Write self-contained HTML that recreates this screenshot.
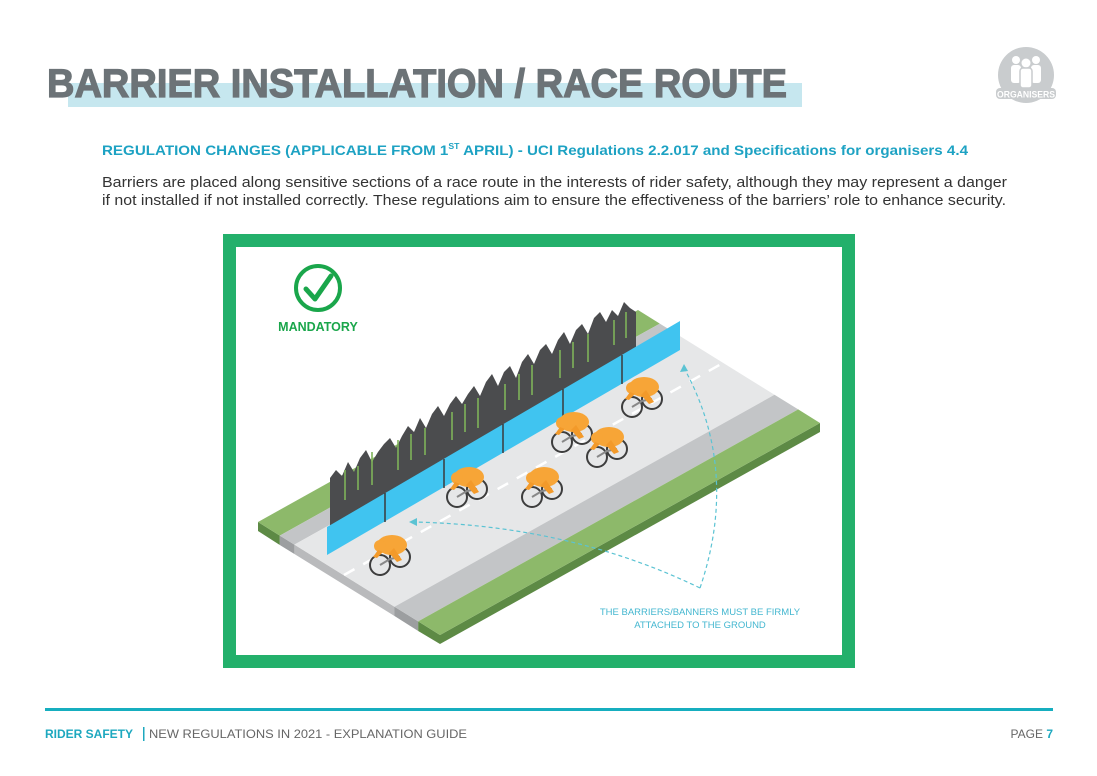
<!DOCTYPE html>
<html><head><meta charset="utf-8"><style>
html,body{margin:0;padding:0;background:#fff}
svg{display:block}
</style></head><body>
<svg width="1097" height="776" viewBox="0 0 1097 776" xmlns="http://www.w3.org/2000/svg" font-family="Liberation Sans, sans-serif">
<rect width="1097" height="776" fill="#fff"/>
<!-- title -->
<rect x="68" y="83" width="734" height="24" fill="#c6e7ef"/>
<text x="47" y="97" font-size="40" font-weight="bold" fill="#6c7377" stroke="#6c7377" stroke-width="1.2" textLength="740" lengthAdjust="spacingAndGlyphs">BARRIER INSTALLATION / RACE ROUTE</text>
<!-- organisers icon -->
<circle cx="1026" cy="75" r="28" fill="#c9ccce"/>
<g fill="#fff">
<circle cx="1016" cy="60" r="4"/><circle cx="1036" cy="60" r="4"/><circle cx="1026" cy="63" r="4.5"/>
<rect x="1011" y="65" width="10" height="18" rx="3"/><rect x="1031" y="65" width="10" height="18" rx="3"/>
<rect x="1020" y="68" width="12" height="20" rx="3" stroke="#c9ccce" stroke-width="1.5"/>
</g>
<rect x="996" y="88" width="60" height="11" rx="4" fill="#c9ccce"/>
<text x="1026" y="97.5" font-size="9" font-weight="bold" fill="#fff" text-anchor="middle" textLength="58" lengthAdjust="spacingAndGlyphs">ORGANISERS</text>
<!-- subtitle -->
<text x="102" y="155" font-size="14" font-weight="bold" fill="#1da2c3" textLength="866" lengthAdjust="spacingAndGlyphs">REGULATION CHANGES (APPLICABLE FROM 1<tspan font-size="8" dy="-6">ST</tspan><tspan dy="6"> APRIL) - UCI Regulations 2.2.017 and Specifications for organisers 4.4</tspan></text>
<text x="102" y="187" font-size="14.5" fill="#333" textLength="905" lengthAdjust="spacingAndGlyphs">Barriers are placed along sensitive sections of a race route in the interests of rider safety, although they may represent a danger</text>
<text x="102" y="205" font-size="14.5" fill="#333" textLength="904" lengthAdjust="spacingAndGlyphs">if not installed if not installed correctly. These regulations aim to ensure the effectiveness of the barriers’ role to enhance security.</text>
<!-- frame -->
<rect x="229.5" y="240.5" width="619" height="421" fill="#fff" stroke="#23b06b" stroke-width="13"/>
<!-- mandatory -->
<circle cx="318" cy="288" r="22" fill="none" stroke="#1aa64b" stroke-width="4"/>
<path d="M306,289 L315,299 L331,276" fill="none" stroke="#1aa64b" stroke-width="5" stroke-linecap="round" stroke-linejoin="round"/>
<text x="318" y="331" font-size="12.5" font-weight="bold" fill="#1aa64b" text-anchor="middle">MANDATORY</text>
<!-- slab faces -->
<polygon points="258,522 279.8,535.6 279.8,545 258,531" fill="#5d8a45"/>
<polygon points="279.8,535.6 294.4,544.6 294.4,554 279.8,545" fill="#9c9ea0"/>
<polygon points="294.4,544.6 394.5,606.8 394.5,616 294.4,554" fill="#b9babc"/>
<polygon points="394.5,606.8 418.2,621.4 418.2,631 394.5,616" fill="#9c9ea0"/>
<polygon points="418.2,621.4 440,635 440,644 418.2,631" fill="#5d8a45"/>
<polygon points="440,635 820,423 820,432 440,644" fill="#5d8a45"/>
<!-- slab tops -->
<polygon points="258,522 638,310 659.8,323.6 279.8,535.6" fill="#8db96a"/>
<polygon points="279.8,535.6 659.8,323.6 674.4,332.6 294.4,544.6" fill="#c3c5c7"/>
<polygon points="294.4,544.6 674.4,332.6 774.5,394.8 394.5,606.8" fill="#e6e7e8"/>
<polygon points="394.5,606.8 774.5,394.8 798.2,409.4 418.2,621.4" fill="#c3c5c7"/>
<polygon points="418.2,621.4 798.2,409.4 820,423 440,635" fill="#8db96a"/>
<!-- centre line -->
<line x1="344" y1="575" x2="723" y2="363" stroke="#fff" stroke-width="2.5" stroke-dasharray="12,10"/>
<!-- crowd -->
<polygon points="330,527 330,478 336,470 342,476 348,462 354,472 360,458 366,450 372,462 378,452 384,444 390,438 396,448 402,436 408,426 414,432 420,418 426,428 432,414 438,406 444,416 450,404 456,396 462,404 468,394 474,386 480,396 486,382 492,374 498,386 504,372 510,366 516,378 522,362 528,354 534,364 540,350 546,344 552,354 558,340 564,332 570,344 576,330 582,324 588,334 594,318 600,312 606,322 612,310 618,316 624,302 630,308 636,312 636,350" fill="#4b4c4e"/>
<g stroke="#7fb35a" stroke-width="2" opacity="0.8">
<line x1="345" y1="470" x2="345" y2="500"/><line x1="372" y1="452" x2="372" y2="485"/><line x1="398" y1="440" x2="398" y2="470"/><line x1="425" y1="428" x2="425" y2="455"/><line x1="452" y1="412" x2="452" y2="440"/><line x1="478" y1="398" x2="478" y2="428"/><line x1="505" y1="384" x2="505" y2="410"/><line x1="532" y1="365" x2="532" y2="395"/><line x1="560" y1="350" x2="560" y2="378"/><line x1="588" y1="334" x2="588" y2="362"/><line x1="614" y1="320" x2="614" y2="345"/>
<line x1="358" y1="466" x2="358" y2="490"/><line x1="411" y1="434" x2="411" y2="460"/><line x1="465" y1="404" x2="465" y2="432"/><line x1="519" y1="374" x2="519" y2="400"/><line x1="573" y1="342" x2="573" y2="368"/><line x1="626" y1="312" x2="626" y2="338"/>
</g>
<!-- barrier panels -->
<polygon points="327,527 680,321 680,350 327,555" fill="#40c4f0"/>
<g stroke="#3a3a3a" stroke-width="1.5">
<line x1="385" y1="493" x2="385" y2="522"/><line x1="444" y1="459" x2="444" y2="488"/><line x1="503" y1="424" x2="503" y2="453"/><line x1="563" y1="389" x2="563" y2="418"/><line x1="622" y1="355" x2="622" y2="384"/>
</g>
<!-- cyclists -->
<defs>
<g id="cy">
<circle cx="-8" cy="15" r="10" fill="none" stroke="#3d3d3d" stroke-width="2"/>
<circle cx="12" cy="7" r="10" fill="none" stroke="#3d3d3d" stroke-width="2"/>
<path d="M-8,15 L2,9 L12,7" stroke="#888" stroke-width="2" fill="none"/>
<ellipse cx="4" cy="-5" rx="15" ry="10" fill="#f7a537"/>
<circle cx="-8" cy="-4" r="6" fill="#f7a537"/>
<path d="M6,-2 L14,10 L9,12 L1,3 Z" fill="#f39a2a"/>
<path d="M-10,0 L-15,7 L-11,8 L-5,2 Z" fill="#f39a2a"/>
</g>
</defs>
<use href="#cy" x="388" y="550"/>
<use href="#cy" x="465" y="482"/>
<use href="#cy" x="540" y="482"/>
<use href="#cy" x="570" y="427"/>
<use href="#cy" x="605" y="442"/>
<use href="#cy" x="640" y="392"/>
<!-- arrows -->
<g fill="none" stroke="#5bc3d3" stroke-width="1.2" stroke-dasharray="4,3">
<path d="M700,588 Q740,470 684,368"/>
<path d="M700,588 Q570,525 412,522"/>
</g>
<path d="M684,364 L680,372 L688,371 Z" fill="#5bc3d3"/>
<path d="M409,522 L417,518 L417,526 Z" fill="#5bc3d3"/>
<text x="700" y="615" font-size="9.5" fill="#44b7d0" text-anchor="middle">THE BARRIERS/BANNERS MUST BE FIRMLY</text>
<text x="700" y="628" font-size="9.5" fill="#44b7d0" text-anchor="middle">ATTACHED TO THE GROUND</text>
<!-- footer -->
<rect x="45" y="708" width="1008" height="3" fill="#16aebf"/>
<text x="45" y="738" font-size="12" font-weight="bold" fill="#1da8bf">RIDER SAFETY</text>
<rect x="143" y="727" width="1.5" height="14" fill="#1da8bf"/>
<text x="149" y="738" font-size="12" fill="#666" textLength="318" lengthAdjust="spacingAndGlyphs">NEW REGULATIONS IN 2021 - EXPLANATION GUIDE</text>
<text x="1053" y="738" font-size="12" fill="#666" text-anchor="end">PAGE <tspan font-weight="bold" fill="#1da8bf">7</tspan></text>
</svg>
</body></html>
